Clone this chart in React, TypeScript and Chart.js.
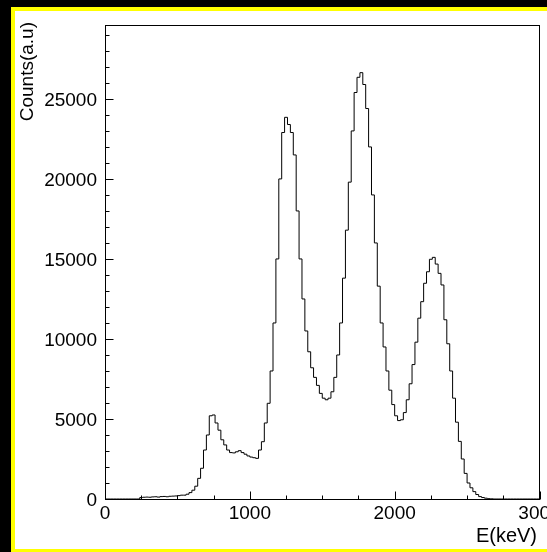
import { useEffect, useRef } from 'react';
import { Chart, registerables } from 'chart.js';

Chart.register(...registerables);

// Energy spectrum: 150 bins of 20 keV from 0 to 3000 keV
const BIN_WIDTH = 20;
const X_MIN = 0;
const X_MAX = 3000;
const Y_MIN = 0;
const Y_MAX = 29650;

const counts = [
  0, 0, 0, 0, 0, 0, 0, 0, 0, 0,
  0, 0, 90, 110, 120, 110, 130, 140, 120, 150,
  160, 140, 170, 180, 190, 210, 240, 240, 300, 400,
  550, 800, 1290, 1920, 3060, 4000, 5200, 5250, 4750, 4300,
  3700, 3380, 3060, 2900, 2880, 2950, 3020, 2900, 2800, 2690,
  2620, 2580, 2540, 3060, 3580, 4750, 5980, 8000, 11000, 15000,
  20000, 22900, 23850, 23400, 22900, 21500, 18000, 15000, 12500, 10500,
  9200, 8200, 7600, 7100, 6600, 6300, 6200, 6300, 6700, 7600,
  9000, 11000, 13800, 16800, 19800, 23000, 25400, 26350, 26640, 25900,
  24400, 22000, 19000, 16000, 13300, 11000, 9500, 8000, 6800, 5900,
  5200, 4900, 4950, 5400, 6200, 7200, 8400, 9800, 11300, 12330,
  13480, 14200, 14980, 15100, 14680, 14100, 13375, 11200, 9700, 8000,
  6300, 4800, 3600, 2500, 1600, 1000, 700, 460, 280, 150,
  90, 50, 20, 10, 0, 0, 0, 0, 0, 0,
  0, 0, 0, 0, 0, 0, 0, 0, 0, 0,
];

// labelled ticks and the spacing of the small ticks between them
const xMajorTicks = [0, 1000, 2000, 3000];
const yMajorTicks = [0, 5000, 10000, 15000, 20000, 25000];
const X_MINOR_STEP = 250;
const Y_MINOR_STEP = 1000;

const xTitle = 'E(keV)';
const yTitle = 'Counts(a.u)';

const FONT = '"Liberation Sans", Arial, Helvetica, sans-serif';
const CANVAS_W = 620;
const CANVAS_H = 620;

const tickValues = (min: number, max: number, step: number) => {
  const out: { value: number }[] = [];
  for (let v = min; v <= max + 1e-9; v += step) out.push({ value: v });
  return out;
};

// histogram outline: one point at each lower bin edge, closing point at the upper edge
const histPoints = counts
  .map((c, i) => ({ x: X_MIN + i * BIN_WIDTH, y: c }))
  .concat([{ x: X_MAX, y: counts[counts.length - 1] }]);

const framePlugin = {
  id: 'rootFrame',
  beforeDraw(chart: any) {
    const ctx = chart.ctx as CanvasRenderingContext2D;
    ctx.save();
    ctx.fillStyle = '#000000';
    ctx.fillRect(0, 0, CANVAS_W, CANVAS_H);
    ctx.fillStyle = '#ffff00';
    ctx.fillRect(11, 7, CANVAS_W, CANVAS_H);
    ctx.fillStyle = '#ffffff';
    ctx.fillRect(15, 11, CANVAS_W, 538);
    ctx.restore();
  },
  afterDraw(chart: any) {
    const ctx = chart.ctx as CanvasRenderingContext2D;
    const { left, right, top, bottom } = chart.chartArea;
    const xs = chart.scales.x;
    const ys = chart.scales.y;
    ctx.save();
    ctx.strokeStyle = '#000000';
    ctx.lineWidth = 1;
    const l = Math.round(left) + 0.5;
    const r = Math.round(right) - 0.5;
    const t = Math.round(top) + 0.5;
    const b = Math.round(bottom) + 0.5;
    ctx.strokeRect(l, t, r - l, b - t);

    // tick marks pointing into the frame
    ctx.beginPath();
    ys.ticks.forEach((tk: any) => {
      const py = Math.round(ys.getPixelForValue(tk.value)) + 0.5;
      const len = yMajorTicks.includes(tk.value) ? 8 : 4;
      ctx.moveTo(l, py);
      ctx.lineTo(l + len, py);
    });
    xs.ticks.forEach((tk: any) => {
      const px = Math.round(xs.getPixelForValue(tk.value)) + 0.5;
      const len = xMajorTicks.includes(tk.value) ? 8 : 4;
      ctx.moveTo(px, b);
      ctx.lineTo(px, b - len);
    });
    ctx.stroke();

    // axis titles
    ctx.fillStyle = '#000000';
    ctx.textAlign = 'right';
    ctx.textBaseline = 'alphabetic';
    ctx.font = `20px ${FONT}`;
    ctx.fillText(xTitle, 537, 542);
    ctx.font = `19px ${FONT}`;
    ctx.translate(33, 22);
    ctx.rotate(-Math.PI / 2);
    ctx.fillText(yTitle, 0, 0);
    ctx.restore();
  },
};

export default function App() {
  const canvasRef = useRef<HTMLCanvasElement>(null);

  useEffect(() => {
    const canvas = canvasRef.current;
    if (!canvas) return;
    const chart = new Chart(canvas, {
      type: 'line',
      data: {
        datasets: [
          {
            data: histPoints,
            borderColor: '#000000',
            borderWidth: 1,
            pointRadius: 0,
            fill: false,
            stepped: true,
            tension: 0,
          },
        ],
      },
      options: {
        animation: false,
        responsive: false,
        devicePixelRatio: 1,
        events: [],
        layout: { padding: { top: 24.5, right: 80.5, bottom: 0, left: 0 } },
        plugins: {
          legend: { display: false },
          tooltip: { enabled: false },
          title: { display: false },
        },
        scales: {
          x: {
            type: 'linear',
            min: X_MIN,
            max: X_MAX,
            grid: { display: false, drawTicks: false },
            border: { display: false },
            afterBuildTicks: (s: any) => {
              s.ticks = tickValues(X_MIN, X_MAX, X_MINOR_STEP);
            },
            afterFit: (s: any) => {
              s.height = CANVAS_H - 499;
            },
            ticks: {
              autoSkip: false,
              maxRotation: 0,
              minRotation: 0,
              padding: 3,
              color: '#000000',
              font: { family: FONT, size: 19 },
              callback: (v: any) => (xMajorTicks.includes(Number(v)) ? String(v) : ''),
            },
          },
          y: {
            type: 'linear',
            min: Y_MIN,
            max: Y_MAX,
            grid: { display: false, drawTicks: false },
            border: { display: false },
            afterBuildTicks: (s: any) => {
              s.ticks = tickValues(Y_MIN, Y_MAX, Y_MINOR_STEP);
            },
            afterFit: (s: any) => {
              s.width = 105;
            },
            ticks: {
              autoSkip: false,
              padding: 8,
              labelOffset: 2,
              color: '#000000',
              font: { family: FONT, size: 19 },
              callback: (v: any) => (yMajorTicks.includes(Number(v)) ? String(v) : ''),
            },
          },
        },
      },
      plugins: [framePlugin],
    });
    return () => chart.destroy();
  }, []);

  return (
    <div
      style={{
        position: 'fixed',
        left: 0,
        top: 0,
        width: '100vw',
        height: '100vh',
        overflow: 'hidden',
        background: '#000000',
      }}
    >
      <canvas
        ref={canvasRef}
        width={CANVAS_W}
        height={CANVAS_H}
        style={{ position: 'absolute', left: 0, top: 0, width: CANVAS_W, height: CANVAS_H }}
      />
    </div>
  );
}
